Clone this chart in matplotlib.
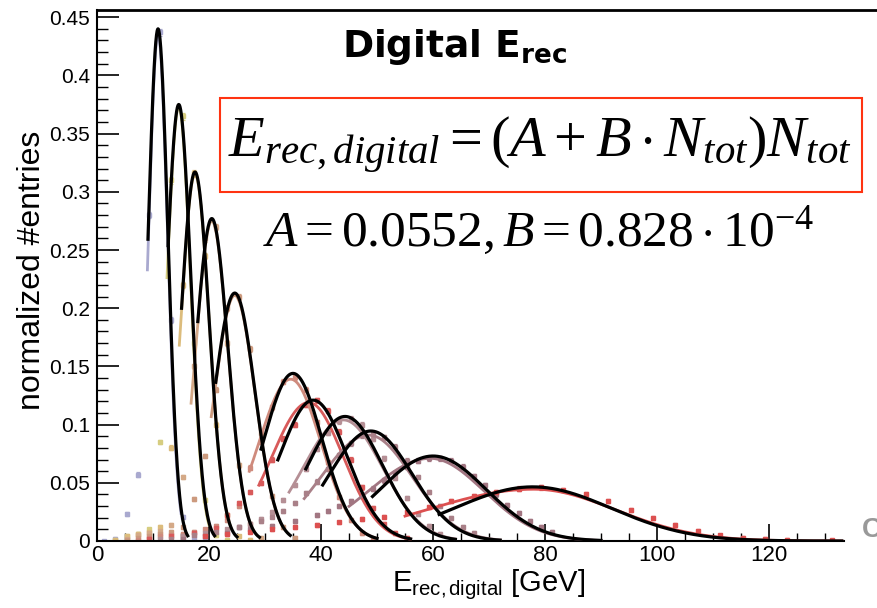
import numpy as np
import matplotlib
matplotlib.use('Agg')
import matplotlib.pyplot as plt
from matplotlib.patches import Rectangle
from matplotlib.ticker import MultipleLocator

plt.rcParams['font.family'] = ['Liberation Sans', 'DejaVu Sans']
plt.rcParams['mathtext.fontset'] = 'custom'
plt.rcParams['mathtext.rm'] = 'Liberation Serif'
plt.rcParams['mathtext.it'] = 'Liberation Serif:italic'
plt.rcParams['mathtext.sf'] = 'Liberation Sans'
plt.rcParams['mathtext.bf'] = 'DejaVu Sans:bold'

# beam energies (GeV) and their colours
energies = [10, 15, 18, 20, 25, 35, 40, 45, 50, 60, 80]
colors = ['#a9a9cf', '#d6cd80', '#dcbc7c', '#d4a987', '#cc9a7e', '#cf8b7d',
          '#d85a5a', '#b58f95', '#a98088', '#a27682', '#dc5050']

# black gaussian fits: mean, sigma, amplitude, fit range
fit_mean = [10.9, 14.6, 17.5, 20.5, 24.6, 35.0, 38.6, 44.3, 48.9, 60.0, 77.8]
fit_sigma = [1.75, 2.15, 2.5, 2.85, 3.6, 5.2, 6.0, 6.7, 7.4, 9.5, 14.0]
fit_amp = [0.440, 0.375, 0.317, 0.277, 0.213, 0.144, 0.121, 0.107, 0.0945, 0.073, 0.0465]
fit_lo = [9.1, 12.7, 15.1, 18.0, 21.2, 29.3, 32.3, 37.3, 40.3, 49.2, 61.1]
fit_hi = [16.2, 21.0, 25.0, 29.0, 34.5, 50.0, 56.0, 64.0, 72.0, 90.0, 133.0]

# coloured fits (drawn underneath): mean, left/right sigma, amplitude, range
col_mean = [10.9, 14.6, 17.5, 20.5, 24.6, 34.6, 37.8, 44.0, 48.5, 59.5, 78.0]
col_sigl = [1.7, 2.1, 2.5, 2.85, 3.6, 5.7, 6.6, 7.2, 8.5, 11.0, 19.0]
col_sigr = [1.7, 2.1, 2.5, 2.85, 3.6, 5.4, 6.2, 7.0, 7.8, 9.6, 14.5]
col_amp = [0.435, 0.373, 0.315, 0.275, 0.211, 0.139, 0.119, 0.104, 0.091, 0.071, 0.0445]
col_lo = [9.0, 12.5, 14.7, 16.8, 20.4, 27.2, 28.9, 34.3, 37.0, 45.0, 55.0]
col_hi = [15.0, 20.0, 24.0, 28.0, 33.0, 50.0, 56.0, 64.0, 72.0, 90.0, 133.0]

# histogram points (bin centre, normalized entries)
x_10 = [1.3, 3.3, 5.3, 7.3, 9.3, 11.3, 13.3, 15.3, 17.3, 19.3]
y_10 = [0.0, 0.002, 0.023, 0.057, 0.28, 0.437, 0.19, 0.021, 0.003, 0.001]
x_15 = [3.3, 5.3, 7.3, 9.3, 11.3, 13.3, 15.3, 17.3, 19.3, 21.3, 23.3]
y_15 = [0.001, 0.004, 0.006, 0.010, 0.085, 0.31, 0.365, 0.17, 0.035, 0.005, 0.001]
x_18 = [3.3, 5.3, 7.3, 9.3, 11.3, 13.3, 15.3, 17.3, 19.3, 21.3, 23.3, 25.3, 27.3]
y_18 = [0.001, 0.004, 0.006, 0.008, 0.012, 0.08, 0.22, 0.316, 0.245, 0.10, 0.022, 0.004, 0.001]
x_20 = [5.3, 7.3, 9.3, 11.3, 13.3, 15.3, 17.3, 19.3, 21.3, 23.3, 25.3, 27.3, 29.3]
y_20 = [0.002, 0.005, 0.007, 0.009, 0.014, 0.055, 0.15, 0.26, 0.27, 0.17, 0.065, 0.015, 0.003]
x_25 = [5.3, 7.3, 9.3, 11.3, 13.3, 15.3, 17.3, 19.3, 21.3, 23.3, 25.3, 27.3, 29.3, 31.3, 33.3, 35.3]
y_25 = [0.001, 0.003, 0.004, 0.006, 0.008, 0.012, 0.036, 0.073, 0.13, 0.20, 0.21, 0.165, 0.093, 0.039, 0.012, 0.003]
x_35 = [7.3, 9.3, 11.3, 13.3, 15.3, 17.3, 19.3, 21.3, 23.3, 25.3, 27.3, 29.3, 31.3, 33.3,
        35.3, 37.3, 39.3, 41.3, 43.3, 45.3, 47.3, 49.3]
y_35 = [0.001, 0.003, 0.004, 0.005, 0.006, 0.008, 0.010, 0.013, 0.018, 0.030, 0.063, 0.085,
        0.115, 0.137, 0.141, 0.130, 0.102, 0.068, 0.038, 0.018, 0.007, 0.002]
x_40 = [9.3, 13.3, 17.3, 21.3, 23.3, 25.3, 27.3, 29.3, 31.3, 33.3, 35.3, 37.3, 39.3, 41.3,
        43.3, 45.3, 47.3, 49.3, 51.3, 53.3, 55.3]
y_40 = [0.002, 0.004, 0.007, 0.011, 0.022, 0.033, 0.042, 0.050, 0.070, 0.088, 0.100, 0.117,
        0.121, 0.112, 0.094, 0.070, 0.046, 0.028, 0.015, 0.007, 0.003]
x_45 = [11.3, 15.3, 19.3, 23.3, 25.3, 27.3, 29.3, 31.3, 33.3, 35.3, 37.3, 39.3, 41.3, 43.3,
        45.3, 47.3, 49.3, 51.3, 53.3, 55.3, 57.3, 59.3, 61.3]
y_45 = [0.002, 0.004, 0.007, 0.010, 0.012, 0.015, 0.019, 0.025, 0.035, 0.048, 0.062, 0.079,
        0.093, 0.103, 0.105, 0.100, 0.088, 0.071, 0.054, 0.037, 0.023, 0.013, 0.006]
x_50 = [13.3, 17.3, 21.3, 25.3, 29.3, 31.3, 33.3, 35.3, 37.3, 39.3, 41.3, 43.3, 45.3, 47.3,
        49.3, 51.3, 53.3, 55.3, 57.3, 59.3, 61.3, 63.3, 65.3, 67.3]
y_50 = [0.002, 0.005, 0.008, 0.012, 0.017, 0.021, 0.026, 0.033, 0.041, 0.051, 0.062, 0.074,
        0.084, 0.091, 0.092, 0.089, 0.081, 0.069, 0.055, 0.042, 0.030, 0.020, 0.012, 0.007]
x_60 = [15.3, 19.3, 23.3, 27.3, 31.3, 35.3, 39.3, 41.3, 43.3, 45.3, 47.3, 49.3, 51.3, 53.3,
        55.3, 57.3, 59.3, 61.3, 63.3, 65.3, 67.3, 69.3, 71.3, 73.3, 75.3, 77.3, 79.3, 81.3]
y_60 = [0.002, 0.004, 0.007, 0.010, 0.013, 0.017, 0.022, 0.026, 0.030, 0.034, 0.039, 0.045,
        0.052, 0.058, 0.064, 0.069, 0.071, 0.071, 0.069, 0.064, 0.056, 0.048, 0.040, 0.031,
        0.024, 0.017, 0.012, 0.008]
x_80 = [19.3, 23.3, 27.3, 31.3, 35.3, 39.3, 43.3, 47.3, 51.3, 55.3, 59.3, 63.3, 67.3, 71.3,
        75.3, 79.3, 83.3, 87.3, 91.3, 95.3, 99.3, 103.3, 107.3, 111.3, 115.3, 119.3, 123.3, 131.3]
y_80 = [0.004, 0.006, 0.008, 0.010, 0.012, 0.014, 0.016, 0.019, 0.021, 0.025, 0.029, 0.034,
        0.039, 0.042, 0.045, 0.046, 0.044, 0.040, 0.034, 0.027, 0.020, 0.014, 0.009, 0.005,
        0.003, 0.002, 0.001, 0.0005]

points_x = [x_10, x_15, x_18, x_20, x_25, x_35, x_40, x_45, x_50, x_60, x_80]
points_y = [y_10, y_15, y_18, y_20, y_25, y_35, y_40, y_45, y_50, y_60, y_80]


def gaus(x, m, sl, sr, a):
    s = np.where(x < m, sl, sr)
    return a * np.exp(-0.5 * ((x - m) / s) ** 2)


fig = plt.figure(figsize=(8.77, 6.08), dpi=100)
ax = fig.add_axes([97 / 877, 67 / 608, (881 - 97) / 877, 531 / 608])

for i in range(len(energies)):
    xs, ys = np.array(points_x[i]), np.array(points_y[i])
    err = 0.0012 + 0.003 * np.sqrt(ys)
    ax.errorbar(xs, ys, yerr=err, fmt='s', ms=2.2, color=colors[i], ecolor=colors[i],
                elinewidth=0.9, capsize=1.6, capthick=0.9, zorder=2)
    xc = np.linspace(col_lo[i], col_hi[i], 400)
    ax.plot(xc, gaus(xc, col_mean[i], col_sigl[i], col_sigr[i], col_amp[i]),
            color=colors[i], lw=2.0, zorder=3)
    xb = np.linspace(fit_lo[i], fit_hi[i], 400)
    ax.plot(xb, gaus(xb, fit_mean[i], fit_sigma[i], fit_sigma[i], fit_amp[i]),
            color='black', lw=2.3, zorder=4)

ax.set_xlim(0, 140)
ax.set_ylim(0, 0.4562)
ax.spines['right'].set_visible(False)
ax.spines['bottom'].set_bounds(0, 133.4)
for s in ['left', 'bottom']:
    ax.spines[s].set_linewidth(1.5)
ax.spines['top'].set_linewidth(2.0)

ax.set_xticks([0, 20, 40, 60, 80, 100, 120])
ax.set_xticks([t for t in range(0, 135, 5)], minor=True)
ax.set_yticks([0, 0.05, 0.1, 0.15, 0.2, 0.25, 0.3, 0.35, 0.4, 0.45])
ax.set_yticklabels(['0', '0.05', '0.1', '0.15', '0.2', '0.25', '0.3', '0.35', '0.4', '0.45'])
ax.yaxis.set_minor_locator(MultipleLocator(0.01))
ax.tick_params(axis='x', which='major', direction='in', length=12, width=1.2,
               labelsize=16, pad=3, top=False)
ax.tick_params(axis='x', which='minor', direction='in', length=6, width=1.0, top=False)
ax.tick_params(axis='y', which='major', direction='in', length=16, width=1.2,
               labelsize=15, pad=5, right=False)
ax.tick_params(axis='y', which='minor', direction='in', length=8, width=1.0, right=False)

ax.set_xlabel(r'$\mathsf{E_{rec,digital}}$ [GeV]', fontsize=21, labelpad=1)
ax.set_ylabel('normalized #entries', fontsize=23)
ax.yaxis.set_label_coords(-0.064, 0.51)

fig.text(0.519, 1 - 47 / 608, r'Digital $\mathbf{E_{rec}}$', fontsize=27,
         family='DejaVu Sans', fontweight='bold', ha='center', va='center')

fig.patches.append(Rectangle((220 / 877, 1 - 192 / 608), 642 / 877, 94 / 608,
                             transform=fig.transFigure, fill=False,
                             edgecolor='#ff3311', lw=1.5))
fig.text(0.616, 1 - 145 / 608, r'$E_{rec,digital}=(A+B\cdot N_{tot})N_{tot}$',
         fontsize=42, ha='center', va='center')
fig.text(0.614, 1 - 231 / 608, r'$A=0.0552, B=0.828\cdot10^{-4}$',
         fontsize=37, ha='center', va='center')

fig.text(862 / 877, 1 - 530 / 608, 'CALICE', fontsize=20, fontweight='bold',
         color='#999999', ha='left', va='center')

fig.savefig('out.png', dpi=100)
